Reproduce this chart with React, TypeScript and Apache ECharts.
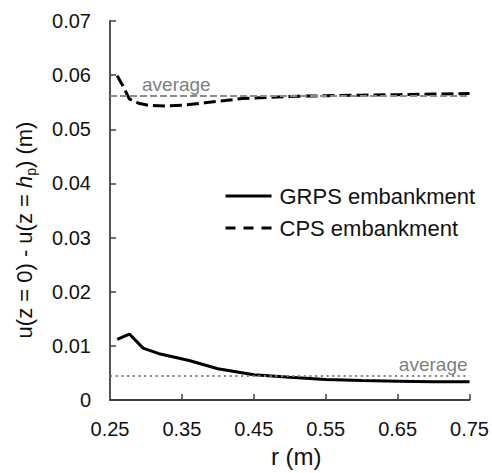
import React, { useEffect, useRef } from "react";
import * as echarts from "echarts";

const FONT = 'Arial, "Liberation Sans", Helvetica, sans-serif';

const grpsR = [0.26, 0.277, 0.296, 0.32, 0.36, 0.4, 0.45, 0.5, 0.55, 0.6, 0.65, 0.7, 0.75];
const grpsU = [0.0112, 0.0122, 0.0096, 0.0085, 0.0073, 0.0058, 0.0047, 0.0042, 0.0038, 0.0036, 0.0035, 0.0034, 0.0034];

const cpsR = [0.26, 0.268, 0.277, 0.29, 0.305, 0.327, 0.355, 0.382, 0.41, 0.434, 0.47, 0.51, 0.55, 0.6, 0.65, 0.7, 0.75];
const cpsU = [0.0599, 0.058, 0.0556, 0.0548, 0.0544, 0.0543, 0.0545, 0.0549, 0.0553, 0.0557, 0.0559, 0.0561, 0.0562, 0.0563, 0.0564, 0.0565, 0.0566];

const grpsAverage = 0.0045;
const cpsAverage = 0.0562;

const xTickValues = [0.35, 0.45, 0.55, 0.65, 0.75];
const xLabelValues = [0.25, 0.35, 0.45, 0.55, 0.65, 0.75];

const seriesNames = ["GRPS embankment", "CPS embankment"];
const yTitle = "{a|u(z = 0) - u(z = }{i|h}{s|p}{a|) (m)}";
const xTitle = "r (m)";

export default function App() {
  const ref = useRef<HTMLDivElement>(null);
  useEffect(() => {
    if (!ref.current) return;
    const chart = echarts.init(ref.current, null, { renderer: "svg" });
    const axisColor = "#404040";
    chart.setOption({
      animation: false,
      backgroundColor: "#ffffff",
      grid: { left: 110, right: 17, top: 21, bottom: 67, containLabel: false },
      graphic: [
        {
          type: "text",
          x: 24,
          y: 230,
          rotation: Math.PI / 2,
          silent: true,
          style: {
            text: yTitle,
            align: "center",
            verticalAlign: "middle",
            fill: "#111",
            fontFamily: FONT,
            fontSize: 22,
            rich: {
              a: { fontFamily: FONT, fontSize: 22, fill: "#111", lineHeight: 28 },
              i: { fontFamily: FONT, fontSize: 22, fill: "#111", fontStyle: "italic", lineHeight: 28 },
              s: { fontFamily: FONT, fontSize: 14, fill: "#111", verticalAlign: "bottom", lineHeight: 28, padding: [11, 0, 0, 0] },
            },
          },
        },
      ],
      legend: {
        orient: "vertical",
        left: 219,
        top: 180,
        itemWidth: 46,
        itemHeight: 14,
        itemGap: 10,
        itemStyle: { opacity: 0 },
        data: [
          { name: seriesNames[0], lineStyle: { width: 3, type: "solid", color: "#000" } },
          { name: seriesNames[1], lineStyle: { width: 3, type: [10, 8], color: "#000" } },
        ],
        textStyle: { fontFamily: FONT, fontSize: 22, color: "#111", padding: [0, 0, 0, 3] },
      },
      xAxis: {
        type: "value",
        min: 0.25,
        max: 0.75,
        name: xTitle,
        nameLocation: "middle",
        nameGap: 41,
        nameTextStyle: { fontFamily: FONT, fontSize: 24, color: "#111", padding: [0, 0, 0, 13] },
        axisLine: { lineStyle: { color: axisColor, width: 1.8 } },
        axisTick: { inside: true, length: 6, lineStyle: { color: axisColor, width: 1.5 }, customValues: xTickValues },
        axisLabel: {
          customValues: xLabelValues,
          formatter: (v: number) => v.toFixed(2),
          fontFamily: FONT,
          fontSize: 20,
          color: "#111",
          margin: 19,
        },
        splitLine: { show: false },
      },
      yAxis: {
        type: "value",
        min: 0,
        max: 0.07,
        interval: 0.01,
        axisLine: { show: true, lineStyle: { color: axisColor, width: 1.8 } },
        axisTick: { show: true, inside: true, length: 6, lineStyle: { color: axisColor, width: 1.5 } },
        axisLabel: {
          fontFamily: FONT,
          fontSize: 20,
          color: "#111",
          margin: 19,
          formatter: (v: number) => (v === 0 ? "0" : v.toFixed(2)),
        },
        splitLine: { show: false },
      },
      series: [
        {
          name: seriesNames[0],
          type: "line",
          symbol: "none",
          data: grpsR.map((r, i) => [r, grpsU[i]]),
          lineStyle: { color: "#000", width: 3, type: "solid" },
          itemStyle: { color: "#000" },
          markLine: {
            silent: true,
            symbol: "none",
            precision: 5,
            data: [{ yAxis: grpsAverage }],
            lineStyle: { color: "#7f7f7f", width: 2.2, type: [2, 3.7] },
            label: {
              show: true,
              position: "insideEndTop",
              formatter: "average",
              fontFamily: FONT,
              fontSize: 19,
              color: "#7f7f7f",
              distance: 2,
            },
          },
        },
        {
          name: seriesNames[1],
          type: "line",
          symbol: "none",
          data: cpsR.map((r, i) => [r, cpsU[i]]),
          lineStyle: { color: "#000", width: 3, type: [12, 5] },
          itemStyle: { color: "#000" },
          markLine: {
            silent: true,
            symbol: "none",
            precision: 5,
            data: [{ yAxis: cpsAverage }],
            lineStyle: { color: "#8c8c8c", width: 2.2, type: [7, 3] },
            label: {
              show: true,
              position: "insideStartTop",
              formatter: "average",
              fontFamily: FONT,
              fontSize: 19,
              color: "#7f7f7f",
              distance: 2,
              padding: [0, 0, 0, 30],
            },
          },
        },
      ],
    });
    return () => chart.dispose();
  }, []);
  return (
    <div
      ref={ref}
      style={{ position: "absolute", left: 0, top: 0, width: 492, height: 473, background: "#fff" }}
    />
  );
}
